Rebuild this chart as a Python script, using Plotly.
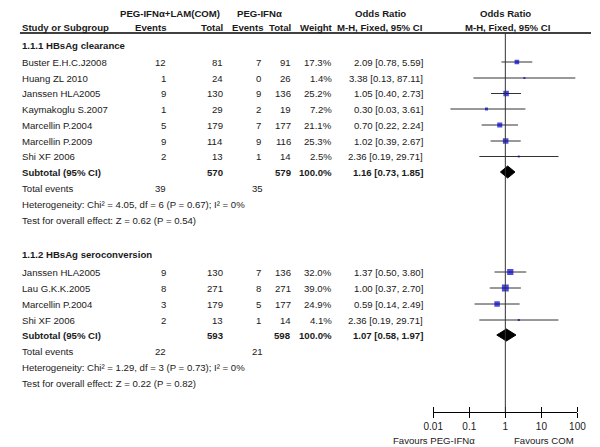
import math
import plotly.graph_objects as go

# ---------------- data ----------------
g1_title = "1.1.1 HBsAg clearance"
g1_studies = ["Buster E.H.C.J2008", "Huang ZL 2010", "Janssen HLA2005", "Kaymakoglu S.2007",
              "Marcellin P.2004", "Marcellin P.2009", "Shi XF 2006"]
g1_ev_com = [12, 1, 9, 1, 5, 9, 2]
g1_tot_com = [81, 24, 130, 29, 179, 114, 13]
g1_ev_peg = [7, 0, 9, 2, 7, 9, 1]
g1_tot_peg = [91, 26, 136, 19, 177, 116, 14]
g1_weight = [17.3, 1.4, 25.2, 7.2, 21.1, 25.3, 2.5]
g1_or = [2.09, 3.38, 1.05, 0.30, 0.70, 1.02, 2.36]
g1_lo = [0.78, 0.13, 0.40, 0.03, 0.22, 0.39, 0.19]
g1_hi = [5.59, 87.11, 2.73, 3.61, 2.24, 2.67, 29.71]
g1_sub_tot = [570, 579]
g1_sub_or = [1.16, 0.73, 1.85]
g1_events = [39, 35]
g1_het = "Heterogeneity: Chi² = 4.05, df = 6 (P = 0.67); I² = 0%"
g1_test = "Test for overall effect: Z = 0.62 (P = 0.54)"

g2_title = "1.1.2 HBsAg seroconversion"
g2_studies = ["Janssen HLA2005", "Lau G.K.K.2005", "Marcellin P.2004", "Shi XF 2006"]
g2_ev_com = [9, 8, 3, 2]
g2_tot_com = [130, 271, 179, 13]
g2_ev_peg = [7, 8, 5, 1]
g2_tot_peg = [136, 271, 177, 14]
g2_weight = [32.0, 39.0, 24.9, 4.1]
g2_or = [1.37, 1.00, 0.59, 2.36]
g2_lo = [0.50, 0.37, 0.14, 0.19]
g2_hi = [3.80, 2.70, 2.49, 29.71]
g2_sub_tot = [593, 598]
g2_sub_or = [1.07, 0.58, 1.97]
g2_events = [22, 21]
g2_het = "Heterogeneity: Chi² = 1.29, df = 3 (P = 0.73); I² = 0%"
g2_test = "Test for overall effect: Z = 0.22 (P = 0.82)"

tick_vals = [0.01, 0.1, 1, 10, 100]
tick_text = ["0.01", "0.1", "1", "10", "100"]
fav_left = "Favours PEG-IFNα"
fav_right = "Favours COM"

# ---------------- layout constants (page pixels) ----------------
PAGE_W, PAGE_H = 600, 447
OFF = 8  # default body margin of the html page
W, H = PAGE_W - OFF, PAGE_H - OFF
FONT = "Liberation Sans, Arial, sans-serif"
FS = 9.6
TXT = "#1a1a1a"
X_NAME, X_EV1, X_TOT1, X_EV2, X_TOT2, X_WT, X_OR = 10, 163, 222, 261, 292, 334, 428
AX_Y = 412
FP_L, FP_R = 437, 586

fig = go.Figure()
ann = []


def txt(x, y, s, anchor="left", bold=False, size=FS):
    ann.append(dict(x=x, y=y, xref="x", yref="y", text=(f"<b>{s}</b>" if bold else s),
                    showarrow=False, xanchor=anchor, yanchor="middle",
                    font=dict(family=FONT, size=size, color=TXT)))


# headers
txt(165, 13, "PEG-IFNα+LAM(COM)", "center", True)
txt(257, 13, "PEG-IFNα", "center", True)
txt(383, 13, "Odds Ratio", "center", True)
txt(512, 13, "Odds Ratio", "center", True)
txt(X_NAME, 27, "Study or Subgroup", "left", True)
txt(X_EV1, 27, "Events", "right", True)
txt(X_TOT1, 27, "Total", "right", True)
txt(X_EV2 + 2, 27, "Events", "right", True)
txt(X_TOT2, 27, "Total", "right", True)
txt(X_WT + 1, 27, "Weight", "right", True)
txt(X_OR, 27, "M-H, Fixed, 95% CI", "right", True)
txt(514, 27, "M-H, Fixed, 95% CI", "center", True)


def group(title, y_title, rows, studies, ev1, t1, ev2, t2, wt, orr, lo, hi,
          sub_tot, sub_or, events, het, test, y_sub, y_tot):
    txt(X_NAME, y_title, title, "left", True)
    lx, ly = [], []
    for i, yy in enumerate(rows):
        txt(X_NAME, yy, studies[i])
        txt(X_EV1, yy, str(ev1[i]), "right")
        txt(X_TOT1, yy, str(t1[i]), "right")
        txt(X_EV2, yy, str(ev2[i]), "right")
        txt(X_TOT2, yy, str(t2[i]), "right")
        txt(X_WT, yy, f"{wt[i]:.1f}%", "right")
        txt(X_OR, yy, f"{orr[i]:.2f} [{lo[i]:.2f}, {hi[i]:.2f}]", "right")
        lx += [lo[i], hi[i], None]
        ly += [yy, yy, None]
    fig.add_trace(go.Scatter(x=lx, y=ly, xaxis="x2", yaxis="y", mode="lines",
                             line=dict(color="#333333", width=1), hoverinfo="skip",
                             showlegend=False))
    fig.add_trace(go.Scatter(x=orr, y=rows, xaxis="x2", yaxis="y", mode="markers",
                             marker=dict(symbol="square", color="#0000CC",
                                         size=[max(2.0, 1.1 * math.sqrt(w)) for w in wt],
                                         line=dict(width=0)),
                             showlegend=False))
    # subtotal
    txt(X_NAME, y_sub, "Subtotal (95% CI)", "left", True)
    txt(X_TOT1, y_sub, str(sub_tot[0]), "right", True)
    txt(X_TOT2, y_sub, str(sub_tot[1]), "right", True)
    txt(X_WT, y_sub, "100.0%", "right", True)
    txt(X_OR, y_sub, f"{sub_or[0]:.2f} [{sub_or[1]:.2f}, {sub_or[2]:.2f}]", "right", True)
    fig.add_trace(go.Scatter(x=[sub_or[1], sub_or[0], sub_or[2], sub_or[0], sub_or[1]],
                             y=[y_sub, y_sub - 6, y_sub, y_sub + 6, y_sub],
                             xaxis="x2", yaxis="y", mode="lines", fill="toself",
                             fillcolor="black", line=dict(color="black", width=1),
                             showlegend=False, hoverinfo="skip"))
    txt(X_NAME, y_tot, "Total events")
    txt(X_EV1, y_tot, str(events[0]), "right")
    txt(X_EV2 + 2, y_tot, str(events[1]), "right")
    txt(X_NAME, y_tot + 16, het)
    txt(X_NAME, y_tot + 32, test)


group(g1_title, 45, [62, 78, 93.5, 109, 125, 141, 156.5], g1_studies, g1_ev_com, g1_tot_com,
      g1_ev_peg, g1_tot_peg, g1_weight, g1_or, g1_lo, g1_hi, g1_sub_tot, g1_sub_or,
      g1_events, g1_het, g1_test, 172, 188)
group(g2_title, 254, [272, 288, 304, 320], g2_studies, g2_ev_com, g2_tot_com,
      g2_ev_peg, g2_tot_peg, g2_weight, g2_or, g2_lo, g2_hi, g2_sub_tot, g2_sub_or,
      g2_events, g2_het, g2_test, 335, 351)

# favours labels
txt(482, 440, fav_left, "right")
txt(518, 440, fav_right, "left")

shapes = [
    dict(type="line", xref="x", yref="y", x0=10, x1=600, y0=33, y1=33,
         line=dict(color="black", width=1.5)),
    dict(type="line", xref="x2", yref="y", x0=1, x1=1, y0=33, y1=AX_Y,
         line=dict(color="#333333", width=1)),
]

fig.update_layout(
    width=W, height=H, margin=dict(l=0, r=0, t=0, b=0),
    paper_bgcolor="white", plot_bgcolor="white",
    showlegend=False, annotations=ann, shapes=shapes,
    xaxis=dict(range=[OFF, PAGE_W], visible=False, domain=[0, 1], fixedrange=True),
    yaxis=dict(range=[PAGE_H, OFF], visible=False, domain=[0, 1], fixedrange=True),
    xaxis2=dict(type="log", range=[-2, 2],
                domain=[(FP_L - OFF) / W, (FP_R - OFF) / W],
                anchor="free", position=1 - (AX_Y - OFF) / H,
                showgrid=False, zeroline=False,
                showline=True, linecolor="black", linewidth=1,
                tickmode="array", tickvals=tick_vals, ticktext=tick_text,
                ticks="outside", ticklen=5, tickcolor="black", tickwidth=1,
                minor=dict(tickmode="array", tickvals=tick_vals, ticks="inside",
                           ticklen=5, tickcolor="black", tickwidth=1, showgrid=False),
                tickfont=dict(family=FONT, size=FS + 0.4, color=TXT), fixedrange=True),
)

fig.write_html("out.html")
